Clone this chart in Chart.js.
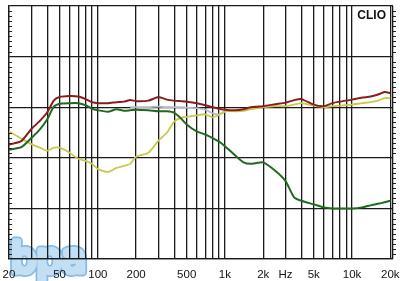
<!DOCTYPE html>
<html>
<head>
<meta charset="utf-8">
<script src="https://cdn.jsdelivr.net/npm/chart.js@4"></script>
<style>
  html, body { margin: 0; padding: 0; background: #fff; }
  #wrap { width: 400px; height: 281px; }
</style>
</head>
<body>
<div id="wrap"><canvas id="clioChart" width="400" height="281"></canvas></div>
<script>
// frequency points (Hz) the curves were read at
const freqs = [20, 25, 30, 35, 40, 45, 50, 60, 70, 80, 90, 100, 120, 140, 160, 180, 200,
  250, 300, 350, 400, 450, 500, 600, 700, 800, 900, 1000, 1200, 1400, 1600, 1800, 2000,
  2500, 3000, 3500, 4000, 5000, 6000, 7000, 8000, 10000, 12000, 14000, 16000, 18000, 20000];

// levels in dB
const redLevels = [62.6, 63.3, 65.7, 67.3, 69.0, 71.3, 72.0, 72.2, 72.1, 71.6, 71.0, 70.8, 70.8, 71.0, 71.1, 71.4, 71.2,
  71.3, 72.0, 71.5, 71.3, 71.2, 71.1, 70.8, 70.4, 70.0, 69.7, 69.5, 69.4, 69.6, 70.0, 70.1, 70.2,
  70.6, 70.9, 71.4, 71.6, 70.5, 70.2, 70.8, 71.1, 71.5, 71.9, 72.1, 72.5, 73.0, 72.8];

const greenLevels = [61.6, 62.1, 63.9, 65.6, 67.6, 70.1, 70.7, 70.8, 70.8, 70.4, 69.7, 69.4, 69.1, 69.6, 69.3, 69.4, 69.5,
  69.4, 69.2, 69.2, 68.9, 67.8, 66.6, 65.2, 64.6, 63.9, 63.2, 62.3, 60.5, 59.1, 58.8, 59.0, 59.1,
  57.4, 55.4, 52.2, 51.5, 50.8, 50.2, 50.0, 50.0, 50.0, 50.2, 50.6, 50.9, 51.2, 51.5];

const yellowLevels = [65.2, 63.8, 62.7, 62.0, 61.4, 62.0, 62.0, 61.0, 59.8, 59.4, 58.8, 57.8, 57.2, 58.0, 58.4, 58.8, 60.2,
  61.0, 63.4, 65.0, 67.2, 67.9, 68.1, 68.4, 68.6, 68.0, 68.5, 69.2, 69.2, 69.3, 69.6, 69.8, 70.0,
  70.2, 70.2, 70.5, 70.8, 70.3, 70.0, 70.2, 70.3, 70.5, 70.8, 71.0, 71.3, 71.8, 71.8];

const grayLevels = [null, null, null, null, null, null, null, null, null, null, null, null, null, null, null, 70.0, 70.0,
  70.0, 70.1, 70.0, 70.0, 70.0, 69.9, 69.8, 69.5, 68.8, 68.6, 69.1, null, null, null, null, null,
  null, null, null, null, null, null, null, null, null, null, null, null, null, null];

// grid lines on the frequency axis and their labels
const gridFreqs = [20, 30, 40, 50, 60, 70, 80, 90, 100, 200, 300, 400, 500, 600, 700, 800, 900,
  1000, 2000, 3000, 4000, 5000, 6000, 7000, 8000, 9000, 10000, 20000, 21000];
const labelFreqs = [20, 50, 100, 200, 500, 1000, 2000, 3000, 5000, 10000, 20000];
const labelTexts = ['20', '50', '100', '200', '500', '1k', '2k', 'Hz', '5k', '10k', '20k'];

const toPoints = (levels) => freqs.map((f, i) => ({ x: f, y: levels[i] }));

// bpa logo goes under the grid
const logoPlugin = {
    id: 'logo',
    beforeDraw(chart) {
        const ctx = chart.ctx;
        ctx.save();
        ctx.font = '40px "DejaVu Sans", sans-serif';
        ctx.textAlign = 'left';
        ctx.textBaseline = 'alphabetic';
        ctx.lineJoin = 'round';
        ctx.lineWidth = 9;
        ctx.strokeStyle = '#86bbe4';
        ctx.strokeText('bpa', 11, 272);
        ctx.lineWidth = 5.5;
        ctx.strokeStyle = '#c2dff4';
        ctx.strokeText('bpa', 11, 272);
        ctx.fillStyle = '#c2dff4';
        ctx.fillText('bpa', 11, 272);
        ctx.restore();
    }
};

// small dB ticks on the left/right frame + CLIO tag
const framePlugin = {
    id: 'frame',
    afterDraw(chart) {
        const ctx = chart.ctx;
        const area = chart.chartArea;
        const yScale = chart.scales.y;
        ctx.save();
        ctx.strokeStyle = '#222';
        ctx.lineWidth = 1;
        for (let db = 41; db < 90; db++) {
            if (db % 10 === 0) continue;
            const y = Math.round(yScale.getPixelForValue(db)) + 0.5;
            ctx.beginPath();
            ctx.moveTo(area.left, y);
            ctx.lineTo(area.left + 3, y);
            ctx.moveTo(area.right, y);
            ctx.lineTo(area.right + 3, y);
            ctx.stroke();
        }

        ctx.fillStyle = '#111';
        ctx.font = 'bold 12px "Liberation Sans", Arial, sans-serif';
        ctx.textAlign = 'right';
        ctx.textBaseline = 'middle';
        ctx.fillText('CLIO', 386, 16);
        ctx.restore();
    }
};

const ctxClio = document.getElementById('clioChart').getContext('2d');

new Chart(ctxClio, {
    type: 'line',
    data: {
        datasets: [
            { label: 'red', data: toPoints(redLevels), borderColor: '#8a1c1c', borderWidth: 2 },
            { label: 'green', data: toPoints(greenLevels), borderColor: '#1f6a1f', borderWidth: 2 },
            { label: 'yellow', data: toPoints(yellowLevels), borderColor: '#c9c94c', borderWidth: 1.8 },
            { label: 'gray', data: toPoints(grayLevels), borderColor: '#b8b8c8', borderWidth: 1.8 }
        ]
    },
    options: {
        responsive: false,
        animation: false,
        layout: { padding: { left: 9, right: 7, top: 6, bottom: 0 } },
        elements: {
            point: { radius: 0 },
            line: { tension: 0.2, fill: false }
        },
        plugins: {
            legend: { display: false },
            tooltip: { enabled: false }
        },
        scales: {
            x: {
                type: 'logarithmic',
                min: 20,
                max: 21000,
                afterBuildTicks: (scale) => {
                    scale.ticks = gridFreqs.map(v => ({ value: v }));
                },
                afterFit: (scale) => {
                    scale.height = 22;
                    scale.paddingLeft = 0;
                    scale.paddingRight = 0;
                },
                ticks: {
                    autoSkip: false,
                    maxRotation: 0,
                    minRotation: 0,
                    padding: 10,
                    color: '#111',
                    font: { family: '"Liberation Sans", Arial, sans-serif', size: 11.5, lineHeight: 1 },
                    callback: function (value) {
                        const i = labelFreqs.indexOf(value);
                        return i >= 0 ? labelTexts[i] : '';
                    }
                },
                grid: { color: '#1a1a1a', lineWidth: 1.3, drawTicks: false, tickLength: 0 },
                border: { color: '#1a1a1a', width: 1.3 }
            },
            y: {
                min: 40,
                max: 90,
                afterFit: (scale) => {
                    scale.width = 0;
                },
                ticks: { stepSize: 10, display: false },
                grid: { color: '#1a1a1a', lineWidth: 1.3, drawTicks: false, tickLength: 0 },
                border: { color: '#1a1a1a', width: 1.3 }
            }
        }
    },
    plugins: [logoPlugin, framePlugin]
});
</script>
</body>
</html>
